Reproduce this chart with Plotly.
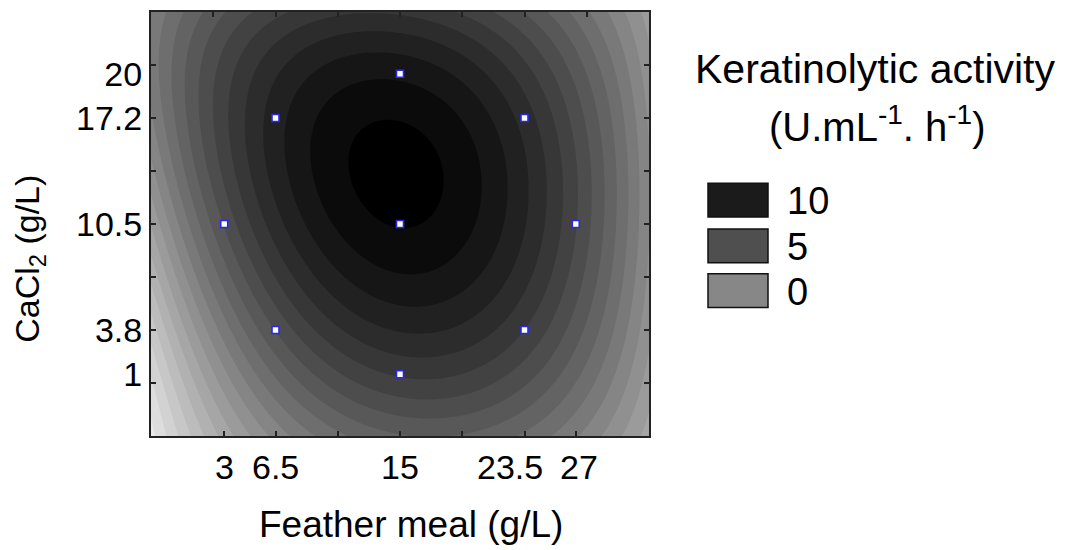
import numpy as np
import plotly.graph_objects as go

# ---- data ----
# design points (central composite design)
feather_meal = [3, 6.5, 6.5, 15, 15, 15, 23.5, 23.5, 27]
cacl2 = [10.5, 3.8, 17.2, 1, 10.5, 20, 3.8, 17.2, 10.5]

# coding of the factors (centre, step for one coded unit)
fm_center, fm_step = 15.0, 8.5
ca_center, ca_step = 10.5, 6.7

# response-surface model coefficients (coded units), keratinolytic activity
b0 = 12.06
b1, b2 = 0.18, 1.58
b11, b22, b12 = -3.25, -1.55, -0.8
b111, b222 = 0.08, -0.15
b112, b122 = 0.08, -0.02
b1122, b1222 = 0.27, 0.068

x_label_vals = [3, 6.5, 15, 23.5, 27]
x_label_text = ["3", "6.5", "15", "23.5", "27"]
x_label_shift = [0, 0, 0, -15, 3]
x_tick_vals = [3, 6.5, 10.75, 15, 19.25, 23.5, 27]
x_top_ticks = [2.25, 6.5, 10.75, 15, 19.25, 23.5, 27.75]
y_label_vals = [1, 3.8, 10.5, 17.2, 20]
y_label_text = ["1", "3.8", "10.5", "17.2", "20"]
y_tick_vals = [0.45, 3.8, 7.15, 10.5, 13.85, 17.2, 20.55]

legend_levels = ["10", "5", "0"]
legend_colors = ["#1b1b1b", "#4f4f4f", "#878787"]

# ---- surface ----
xs = np.linspace(-2, 32, 241)
ys = np.linspace(-2.9, 23.9, 241)
X, Y = np.meshgrid(xs, ys)
cx = (X - fm_center) / fm_step
cy = (Y - ca_center) / ca_step
Z = (b0 + b1 * cx + b2 * cy + b11 * cx ** 2 + b22 * cy ** 2 + b12 * cx * cy
     + b111 * cx ** 3 + b222 * cy ** 3 + b112 * cx ** 2 * cy + b122 * cx * cy ** 2
     + b1122 * cx ** 2 * cy ** 2 + b1222 * cx * cy ** 3)

FONT = "Liberation Sans, Arial, sans-serif"

fig = go.Figure()
fig.add_trace(go.Contour(
    x=xs, y=ys, z=Z,
    colorscale=[[0, "rgb(254,254,254)"], [1, "rgb(0,0,0)"]],
    zmin=-10.5, zmax=12.5, zauto=False,
    contours=dict(start=-16, end=13, size=1, coloring="fill", showlines=False),
    line=dict(width=0, smoothing=1.3),
    showscale=False, hoverinfo="skip",
))
fig.add_trace(go.Scatter(
    x=feather_meal, y=cacl2, mode="markers",
    marker=dict(symbol="square", size=7, color="white",
                line=dict(color="#2a2ae6", width=1.6)),
    showlegend=False, hoverinfo="skip",
))
# invisible traces so the overlay tick axes are drawn
fig.add_trace(go.Scatter(x=[None], y=[None], xaxis="x2", yaxis="y2", showlegend=False))
fig.add_trace(go.Scatter(x=[None], y=[None], xaxis="x", yaxis="y3", showlegend=False))

axis_common = dict(showgrid=False, zeroline=False)
tick_style = dict(ticks="inside", ticklen=5, tickwidth=1.5, tickcolor="#222")

# the page has an 8px body margin: the figure is drawn shifted by 8px
fig.update_layout(
    width=1052, height=542,
    margin=dict(l=143, r=411, t=2, b=114),
    paper_bgcolor="white", plot_bgcolor="white",
    font=dict(family=FONT, size=34, color="black"),
    showlegend=False,
    xaxis=dict(range=[-2, 32], tickvals=x_tick_vals, showticklabels=False,
               showline=True, linecolor="#222", linewidth=2, mirror=True,
               **tick_style, **axis_common),
    xaxis2=dict(range=[-2, 32], overlaying="x", side="top", tickvals=x_top_ticks,
                showticklabels=False, showline=False, **tick_style, **axis_common),
    yaxis=dict(range=[-2.9, 23.9], tickvals=y_label_vals, ticktext=y_label_text,
               ticks="", showline=True, linecolor="#222", linewidth=2, mirror=True,
               tickfont=dict(size=34), **axis_common),
    yaxis2=dict(range=[-2.9, 23.9], overlaying="y", side="left", tickvals=y_tick_vals,
                showticklabels=False, showline=False, **tick_style, **axis_common),
    yaxis3=dict(range=[-2.9, 23.9], overlaying="y", side="right", tickvals=y_tick_vals,
                showticklabels=False, showline=False, **tick_style, **axis_common),
)

# page-pixel positions -> plot-area paper coordinates
pl, pr, pt, pb = 151, 649, 10, 436
def pa(xp, yp):
    return dict(x=(xp - pl) / (pr - pl), y=(pb - yp) / (pb - pt), xref="paper", yref="paper")

# x tick labels
for v, t, s in zip(x_label_vals, x_label_text, x_label_shift):
    fig.add_annotation(text=t, x=v, xref="x", y=pa(0, 467)["y"], yref="paper",
                       xshift=s, showarrow=False, font=dict(size=34),
                       xanchor="center", yanchor="middle")

fig.add_annotation(text="Feather meal (g/L)", showarrow=False, font=dict(size=37),
                   xanchor="center", yanchor="middle", **pa(411, 525))
fig.add_annotation(text="CaCl<sub>2</sub> (g/L)", showarrow=False, font=dict(size=34),
                   textangle=-90, xanchor="center", yanchor="middle", borderpad=0,
                   **pa(30, 258))
fig.add_annotation(text="Keratinolytic activity", showarrow=False, font=dict(size=41),
                   xanchor="center", yanchor="middle", **pa(875, 67))
fig.add_annotation(text="(U.mL<sup>-1</sup>. h<sup>-1</sup>)", showarrow=False, font=dict(size=40),
                   xanchor="center", yanchor="middle", **pa(877, 123))

sw_top = [182, 228, 273]
for lab, col, top in zip(legend_levels, legend_colors, sw_top):
    a = pa(708, top)
    b = pa(768, top + 34)
    fig.add_shape(type="rect", xref="paper", yref="paper",
                  x0=a["x"], x1=b["x"], y0=b["y"], y1=a["y"],
                  fillcolor=col, line=dict(color="#111", width=1.5))
    fig.add_annotation(text=lab, showarrow=False, font=dict(size=38),
                       xanchor="left", yanchor="middle", **pa(785, top + 18))

fig.write_html("out.html")
